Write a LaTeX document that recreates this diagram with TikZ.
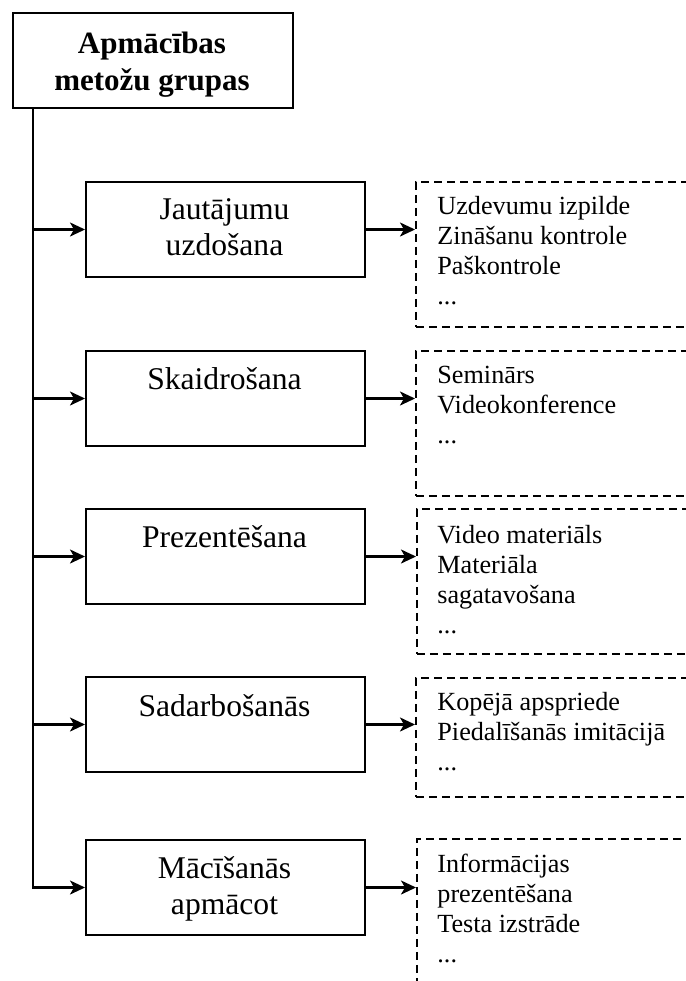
\documentclass[tikz,border=0pt]{standalone}
\usepackage{fontspec}
\setmainfont{Liberation Serif}
\usetikzlibrary{arrows.meta}

\tikzset{
    groupbox/.style={draw, line width=1pt, inner sep=0pt, anchor=north west,
                     minimum width=139.5pt, minimum height=47.5pt},
    grouptext/.style={anchor=base, align=center, inner sep=0pt,
                      font=\fontsize{15.8}{18}\selectfont},
    listbox/.style={draw, line width=0.75pt, dash pattern=on 4pt off 2.5pt,
                    inner sep=0pt, anchor=north west, minimum width=142.5pt},
    listtext/.style={anchor=base west, align=left, inner sep=0pt,
                     font=\fontsize{13.1}{15}\selectfont},
    link/.style={line width=1.1pt, -{Stealth[length=7.5pt, width=7pt, inset=2pt]}}
}

\begin{document}
\begin{tikzpicture}[x=0.5pt, y=-0.5pt]
    \clip (0,0) rectangle (686,981);

    % Title box (text placed by the baseline of its last line)
    \node[draw, line width=1pt, minimum width=140pt, minimum height=47.5pt,
          inner sep=0pt, anchor=north west] (top) at (12,12) {};
    \node[anchor=base, align=center, inner sep=0pt,
          font=\fontsize{15.5}{18.5}\selectfont\bfseries] (toptext) at (152,90)
          {Apmācības\\metožu grupas};
    \coordinate (trunk) at (33,107);

    % Method groups
    \node[groupbox] (b1) at (85,181) {};
    \node[groupbox] (b2) at (85,350) {};
    \node[groupbox] (b3) at (85,508) {};
    \node[groupbox] (b4) at (85,676) {};
    \node[groupbox] (b5) at (85,839) {};
    \node[grouptext] (t1) at (224.5,255) {Jautājumu\\uzdošana};
    \node[grouptext] (t2) at (224.5,389) {Skaidrošana};
    \node[grouptext] (t3) at (224.5,547) {Prezentēšana};
    \node[grouptext] (t4) at (224.5,716) {Sadarbošanās};
    \node[grouptext] (t5) at (224.5,914) {Mācīšanās\\apmācot};

    % Examples of each group
    \node[listbox, minimum height=72.5pt] (d1) at (415,181) {};
    \node[listbox, minimum height=72.5pt] (d2) at (415,350) {};
    \node[listbox, minimum height=72.5pt] (d3) at (416,508) {};
    \node[listbox, minimum height=59.5pt] (d4) at (415,677) {};
    \node[listbox, minimum height=81pt]   (d5) at (416,838) {};
    \node[listtext] (l1) at (437,304) {Uzdevumu izpilde\\Zināšanu kontrole\\Paškontrole\\...};
    \node[listtext] (l2) at (437,443) {Seminārs\\Videokonference\\...};
    \node[listtext] (l3) at (437,633) {Video materiāls\\Materiāla\\sagatavošana\\...};
    \node[listtext] (l4) at (437,770) {Kopējā apspriede\\Piedalīšanās imitācijā\\...};
    \node[listtext] (l5) at (437,962) {Informācijas\\prezentēšana\\Testa izstrāde\\...};

    % Connectors
    \draw[link] (trunk) |- (b5.west);
    \foreach \i in {1,...,4} \draw[link] (trunk |- b\i.west) -- (b\i.west);
    \foreach \i in {1,...,5} \draw[link] (b\i.east) -- (b\i.east -| d\i.west);
\end{tikzpicture}
\end{document}
